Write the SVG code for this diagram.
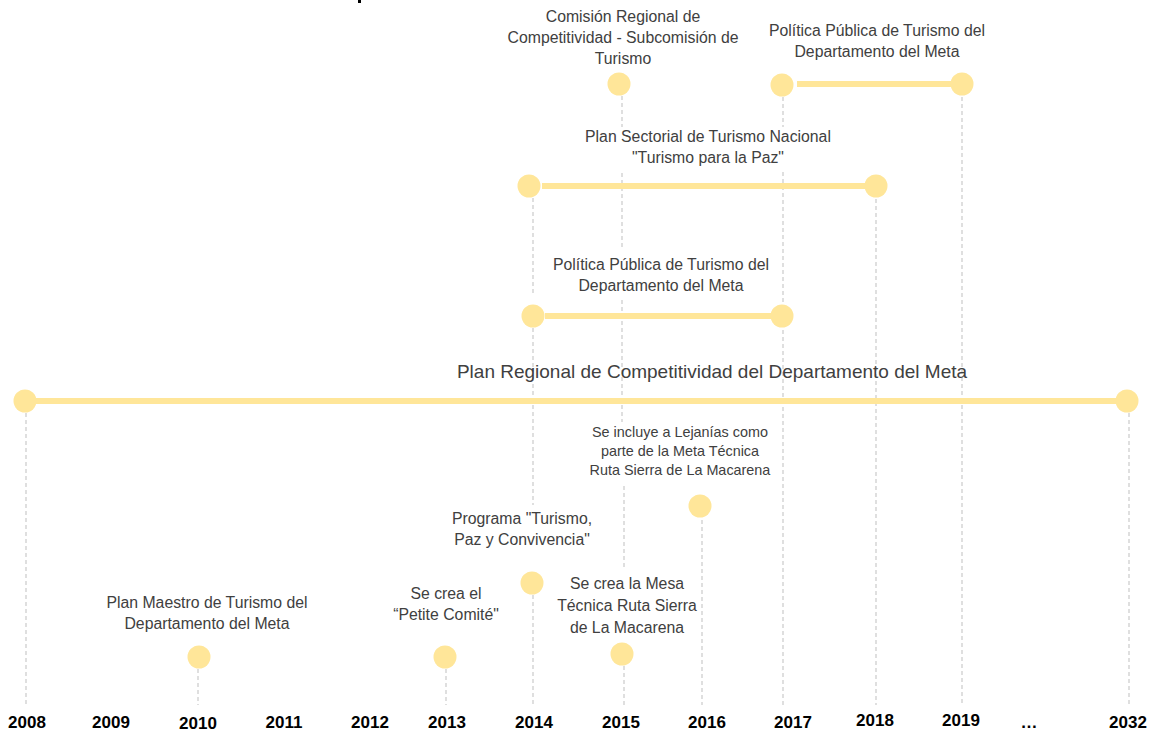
<svg xmlns="http://www.w3.org/2000/svg" width="1153" height="731" viewBox="0 0 1153 731">
<style>
.t{font-family:"Liberation Sans",Arial,sans-serif;font-size:15.8px;fill:#404040;text-anchor:middle}
.big{font-size:19px}
.sm{font-size:14.4px}
.yr{font-family:"Liberation Sans",Arial,sans-serif;font-size:17px;font-weight:bold;fill:#000;text-anchor:middle}
.d{stroke:#bfbfbf;stroke-width:1;stroke-dasharray:4 3;fill:none}
.bar{stroke:#FFE699;stroke-width:6;fill:none}
.dot{fill:#FFE699}
</style>
<rect width="1153" height="731" fill="#fff"/>
<rect x="358" y="0" width="3" height="3" fill="#000"/>
<g id="connectors">
<path class="d" d="M26 413V705M198 669V705M446 669V705M533 198V296M533 328V505M533 595V705M622 96V127M622 173V247M622 300V422M624 486V570M624 666V705M702 520V705M783 97V127M783 172V302M783 330V705M876 199V705M962 97V705M1129 413V705"/>
</g>
<g id="timeline-years">
<text class="yr" x="27" y="728">2008</text>
<text class="yr" x="111" y="728">2009</text>
<text class="yr" x="198" y="729">2010</text>
<text class="yr" x="284" y="728">2011</text>
<text class="yr" x="370" y="728">2012</text>
<text class="yr" x="447" y="728">2013</text>
<text class="yr" x="534" y="728">2014</text>
<text class="yr" x="621" y="728">2015</text>
<text class="yr" x="707" y="728">2016</text>
<text class="yr" x="793" y="728">2017</text>
<text class="yr" x="875" y="726">2018</text>
<text class="yr" x="961" y="726">2019</text>
<text class="yr" x="1029" y="728">…</text>
<text class="yr" x="1128" y="728">2032</text>
</g>
<g id="comision">
<text class="t" x="623" y="22">Comisión Regional de</text>
<text class="t" x="623" y="43">Competitividad - Subcomisión de</text>
<text class="t" x="623" y="64">Turismo</text>
<circle class="dot" cx="619" cy="84" r="11.5"/>
</g>
<g id="politica-2017-2019">
<text class="t" x="877" y="36">Política Pública de Turismo del</text>
<text class="t" x="877" y="57">Departamento del Meta</text>
<line class="bar" x1="797" y1="84" x2="955" y2="84"/>
<circle class="dot" cx="782" cy="85" r="11.5"/>
<circle class="dot" cx="962" cy="84" r="11.5"/>
</g>
<g id="plan-sectorial">
<text class="t" x="708" y="142">Plan Sectorial de Turismo Nacional</text>
<text class="t" x="708" y="163">"Turismo para la Paz"</text>
<line class="bar" x1="542" y1="186" x2="870" y2="186"/>
<circle class="dot" cx="529" cy="186" r="11.5"/>
<circle class="dot" cx="876" cy="186" r="11.5"/>
</g>
<g id="politica-2014-2017">
<text class="t" x="661" y="270">Política Pública de Turismo del</text>
<text class="t" x="661" y="291">Departamento del Meta</text>
<line class="bar" x1="545" y1="316" x2="775" y2="316"/>
<circle class="dot" cx="533" cy="316" r="11.5"/>
<circle class="dot" cx="782" cy="316" r="11.5"/>
</g>
<g id="plan-regional">
<text class="t big" x="712" y="378">Plan Regional de Competitividad del Departamento del Meta</text>
<line class="bar" x1="35" y1="401" x2="1120" y2="401"/>
<circle class="dot" cx="25" cy="401" r="11.5"/>
<circle class="dot" cx="1127" cy="401" r="11.5"/>
</g>
<g id="se-incluye">
<text class="t sm" x="680" y="437">Se incluye a Lejanías como</text>
<text class="t sm" x="680" y="456">parte de la Meta Técnica</text>
<text class="t sm" x="680" y="475">Ruta Sierra de La Macarena</text>
<circle class="dot" cx="700" cy="506" r="11.5"/>
</g>
<g id="programa">
<text class="t" x="522" y="524">Programa "Turismo,</text>
<text class="t" x="522" y="545">Paz y Convivencia"</text>
<circle class="dot" cx="532" cy="583" r="11.5"/>
</g>
<g id="mesa-tecnica">
<text class="t" x="627" y="589">Se crea la Mesa</text>
<text class="t" x="627" y="611">Técnica Ruta Sierra</text>
<text class="t" x="627" y="633">de La Macarena</text>
<circle class="dot" cx="622" cy="654" r="11.5"/>
</g>
<g id="petite-comite">
<text class="t" x="446" y="599">Se crea el</text>
<text class="t" x="446" y="620">“Petite Comité"</text>
<circle class="dot" cx="445" cy="657" r="11.5"/>
</g>
<g id="plan-maestro">
<text class="t" x="207" y="608">Plan Maestro de Turismo del</text>
<text class="t" x="207" y="629">Departamento del Meta</text>
<circle class="dot" cx="199" cy="657" r="11.5"/>
</g>
</svg>
